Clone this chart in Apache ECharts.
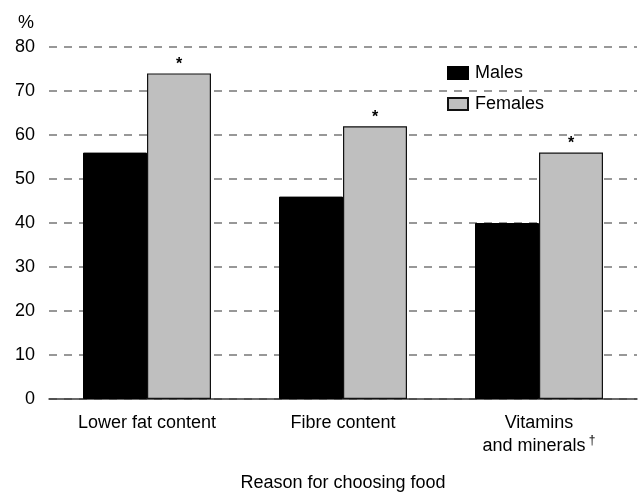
<!DOCTYPE html>
<html>
<head>
<meta charset="utf-8">
<script src="https://cdn.jsdelivr.net/npm/echarts@6/dist/echarts.min.js"></script>
<style>
  html, body { margin: 0; padding: 0; background: #fff; }
  #chart { width: 639px; height: 493px; }
</style>
</head>
<body>
<div id="chart"></div>
<script>
// Share of people choosing food for each reason, by sex (%)
const categories = ['Lower fat content', 'Fibre content', 'Vitamins\nand minerals'];
const males = [56, 46, 40];
const females = [74, 62, 56];
const femaleMarks = ['*', '*', '*'];
const yTicks = [0, 10, 20, 30, 40, 50, 60, 70, 80];

const FONT = '"Liberation Sans", Arial, Helvetica, sans-serif';

const chart = echarts.init(document.getElementById('chart'), null, { renderer: 'canvas' });

chart.setOption({
  animation: false,
  backgroundColor: '#fff',
  textStyle: { fontFamily: FONT, color: '#000' },
  grid: { left: 49, right: 2, top: 47, bottom: 94, containLabel: false, outerBoundsMode: 'none' },
  graphic: [{
    type: 'text',
    left: 18,
    top: 14,
    style: { text: '%', font: '18px ' + FONT, fill: '#000' }
  }],
  legend: {
    orient: 'vertical',
    left: 442,
    top: 59,
    itemWidth: 20,
    itemHeight: 12,
    itemGap: 13,
    icon: 'rect',
    textStyle: { fontSize: 18, color: '#000', fontFamily: FONT, padding: [0, 0, 0, 2] },
    data: ['Males', 'Females']
  },
  xAxis: {
    type: 'category',
    data: categories,
    name: 'Reason for choosing food',
    nameLocation: 'middle',
    nameGap: 75,
    nameTextStyle: { fontSize: 18, color: '#000', fontFamily: FONT, lineHeight: 18 },
    axisLine: { show: true, lineStyle: { color: '#3a3a3a', width: 1.5 } },
    axisTick: { show: false },
    axisLabel: {
      margin: 13,
      color: '#000',
      fontSize: 18,
      lineHeight: 23,
      fontFamily: FONT,
      interval: 0,
      formatter: function (v) {
        if (v.indexOf('Vitamins') === 0) {
          const parts = v.split('\n');
          return '{n|' + parts[0] + '}\n{n|' + parts[1] + '}{d| \u2020}';
        }
        return '{n|' + v + '}';
      },
      rich: {
        n: { fontSize: 18, lineHeight: 23, fontFamily: FONT, color: '#000' },
        d: { fontSize: 12, lineHeight: 23, fontFamily: FONT, color: '#000', verticalAlign: 'top', padding: [0, 0, 6, 0] }
      }
    }
  },
  yAxis: {
    type: 'value',
    min: yTicks[0],
    max: yTicks[yTicks.length - 1],
    interval: 10,
    axisLine: { show: false },
    axisTick: { show: false },
    axisLabel: { margin: 14, color: '#000', fontSize: 18, fontFamily: FONT, padding: [6, 0, 0, 0] },
    splitLine: { show: true, lineStyle: { color: '#777', width: 1.5, type: [8, 7] } }
  },
  series: [
    {
      name: 'Males',
      type: 'bar',
      data: males,
      barGap: '0%',
      barCategoryGap: '34.7%',
      itemStyle: { color: '#000', borderColor: '#000', borderWidth: 1 }
    },
    {
      name: 'Females',
      type: 'bar',
      data: females,
      barGap: '0%',
      barCategoryGap: '34.7%',
      itemStyle: { color: '#bfbfbf', borderColor: '#111', borderWidth: 1.2 },
      label: {
        show: true,
        position: 'top',
        distance: 1,
        fontSize: 16,
        fontWeight: 'bold',
        fontFamily: FONT,
        color: '#000',
        formatter: function (p) { return femaleMarks[p.dataIndex]; }
      }
    }
  ]
});
</script>
</body>
</html>
